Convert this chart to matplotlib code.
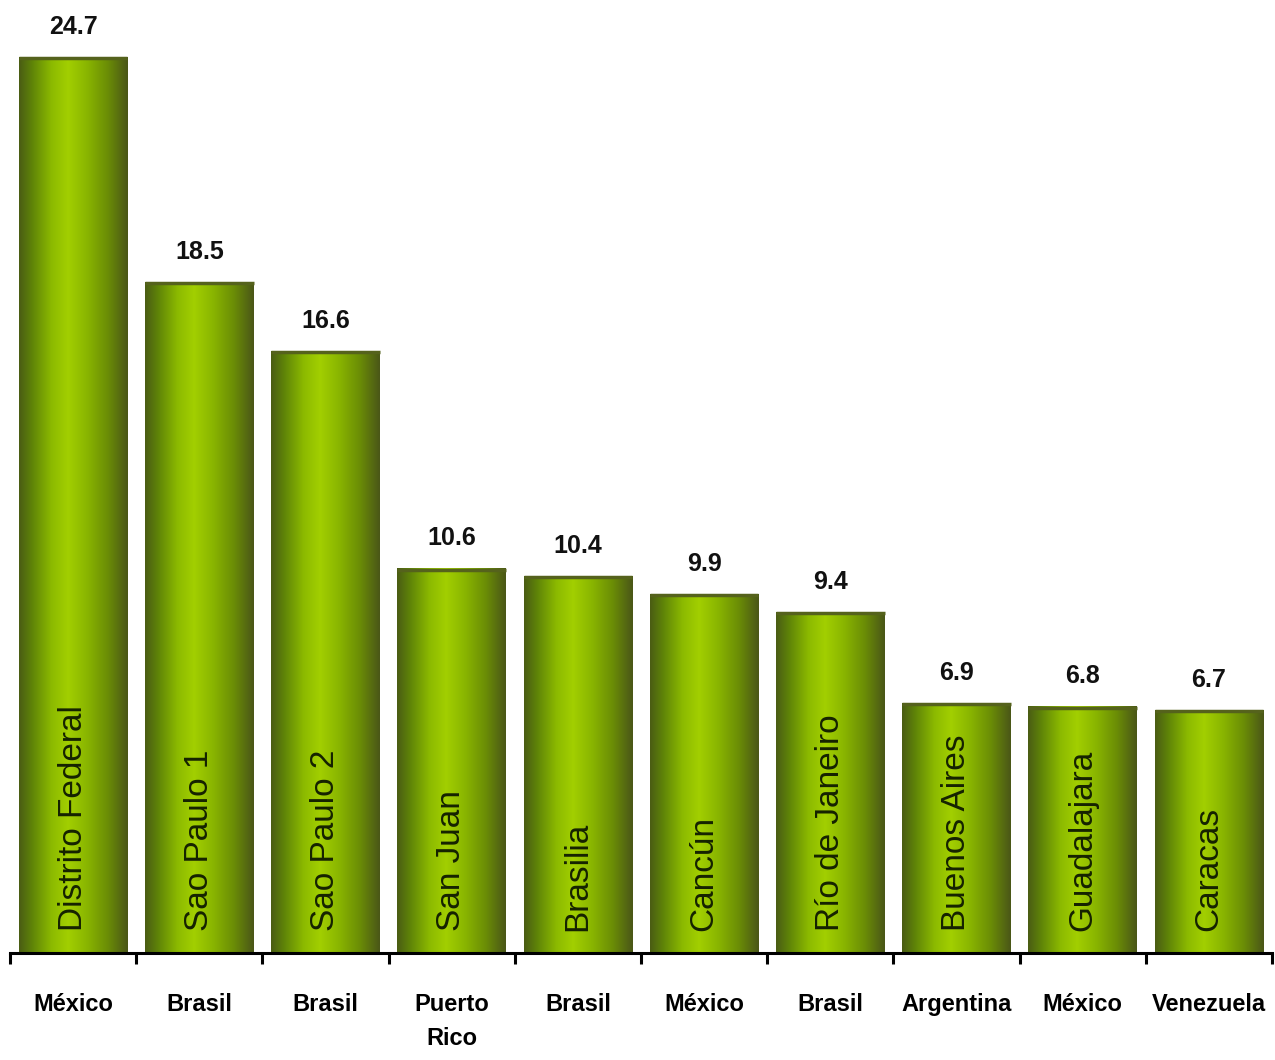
import numpy as np
import matplotlib.pyplot as plt
from matplotlib.colors import LinearSegmentedColormap

cities = ["Distrito Federal", "Sao Paulo 1", "Sao Paulo 2", "San Juan", "Brasilia",
          "Cancún", "Río de Janeiro", "Buenos Aires", "Guadalajara", "Caracas"]
countries = ["México", "Brasil", "Brasil", "Puerto\nRico", "Brasil",
             "México", "Brasil", "Argentina", "México", "Venezuela"]
values = [24.7, 18.5, 16.6, 10.6, 10.4, 9.9, 9.4, 6.9, 6.8, 6.7]

fonts = ["Liberation Sans", "DejaVu Sans"]

# cylinder-like horizontal shading of the bars
shade = LinearSegmentedColormap.from_list("shade", [
    (0.0, "#4a5c14"), (0.12, "#5f8408"), (0.3, "#8cba00"), (0.45, "#a2cf00"),
    (0.62, "#8ab600"), (0.82, "#6a8c06"), (1.0, "#4a5618")])
grad = np.linspace(0, 1, 256).reshape(1, -1)

fig = plt.figure(figsize=(12.75, 10.6), dpi=100)
ax = fig.add_axes([10 / 1275, 107 / 1060, 1262 / 1275, 953 / 1060])

x = np.arange(len(values))
w = 0.86
bars = ax.bar(x, values, width=w, color="none", edgecolor="none", zorder=2)
for b in bars:
    x0, h = b.get_x(), b.get_height()
    im = ax.imshow(grad, cmap=shade, aspect="auto", extent=(x0, x0 + w, 0, h),
                   interpolation="bicubic", zorder=1)
    im.set_clip_path(b)
    ax.plot([x0, x0 + w], [h - 0.04, h - 0.04], color="#55621c", lw=2.5,
            solid_capstyle="butt", zorder=2)

for xi, v, c in zip(x, values, cities):
    ax.text(xi, v + 0.5, f"{v}", ha="center", va="bottom", fontsize=18,
            fontweight="bold", family=fonts, color="#111111")
    ax.text(xi, 0.6, c, ha="center", va="bottom", rotation=90, fontsize=24,
            family=fonts, color="#152200")

ax.set_xlim(-0.5, len(values) - 0.5)
ax.set_ylim(0, 26.27)
ax.set_yticks([])
for s in ["top", "right", "left"]:
    ax.spines[s].set_visible(False)
ax.spines["bottom"].set_linewidth(2.2)

ax.set_xticks(np.arange(len(values) + 1) - 0.5)
ax.set_xticklabels([])
ax.tick_params(axis="x", which="major", direction="out", length=8, width=2.2)
ax.set_xticks(x, minor=True)
ax.set_xticklabels(countries, minor=True, fontsize=17, fontweight="bold",
                   family=fonts, linespacing=1.6, va="top")
ax.tick_params(axis="x", which="minor", length=0, pad=29)

fig.savefig("out.png", dpi=100, facecolor="white")
